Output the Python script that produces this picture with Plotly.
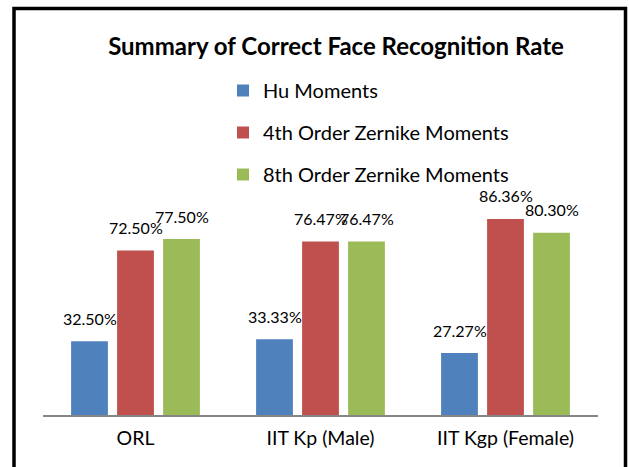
import plotly.graph_objects as go

categories = ["ORL", "IIT Kp (Male)", "IIT Kgp (Female)"]
series_names = ["Hu Moments", "4th Order Zernike Moments", "8th Order Zernike Moments"]
hu_moments = [32.50, 33.33, 27.27]
zernike_4th = [72.50, 76.47, 86.36]
zernike_8th = [77.50, 76.47, 80.30]
series_values = [hu_moments, zernike_4th, zernike_8th]
colors = ["#4F81BD", "#C0504D", "#9BBB59"]

FONT = "Lato"
bargap = 0.254
bargroupgap = 0.2

# layout numbers in page pixels (body margin removed below)
L, T, PW, PH = 43, 188, 555, 227
W, H = 629, 467

fig = go.Figure()
for j, (name, vals, col) in enumerate(zip(series_names, series_values, colors)):
    fig.add_trace(go.Bar(
        x=categories, y=vals, name=name, legendgroup=name,
        marker=dict(color=col, line=dict(width=0)),
        hoverinfo="skip",
    ))

# data labels above bars
n = len(series_names)
slot = (1 - bargap) / n
annotations = []
for j, vals in enumerate(series_values):
    for i, v in enumerate(vals):
        annotations.append(dict(
            x=i + (j - (n - 1) / 2) * slot, y=v, xref="x", yref="y",
            text=f"{v:.2f}%", showarrow=False, yanchor="middle", yshift=23,
            font=dict(family=FONT, size=16, color="black"),
        ))


def px_x(p):
    return (p - L) / PW


def px_y(p):
    return (T + PH - p) / PH


fig.update_layout(
    width=W, height=H,
    margin=dict(l=L, r=W - L - PW, t=T, b=H - T - PH),
    paper_bgcolor="white", plot_bgcolor="white",
    barmode="group", bargap=bargap, bargroupgap=bargroupgap,
    title=dict(text="<b>Summary of Correct Face Recognition Rate</b>",
               x=336 / W, xanchor="center", xref="container",
               y=1 - 47 / H, yanchor="middle", yref="container",
               font=dict(family=FONT, size=24, color="black")),
    legend=dict(x=px_x(223), xanchor="left", y=px_y(71), yanchor="top",
                orientation="v", tracegroupgap=13,
                font=dict(family=FONT, size=20, color="black"),
                bgcolor="rgba(0,0,0,0)"),
    xaxis=dict(showline=True, linecolor="#868686", linewidth=2,
               ticks="", showgrid=False, zeroline=False, ticklabelstandoff=5,
               tickfont=dict(family=FONT, size=19.5, color="black")),
    yaxis=dict(range=[0, 100], visible=False, showgrid=False, zeroline=False),
    annotations=annotations,
    shapes=[dict(type="rect", xref="paper", yref="paper",
                 x0=px_x(14), x1=px_x(625.5),
                 y0=px_y(500), y1=px_y(8.5),
                 line=dict(color="black", width=3.5), fillcolor="rgba(0,0,0,0)",
                 layer="above")],
    showlegend=True,
)

fig.write_html(
    "out.html",
    config={"displayModeBar": False, "staticPlot": True},
    post_script="document.body.style.margin='0';document.body.style.overflow='hidden';",
)
